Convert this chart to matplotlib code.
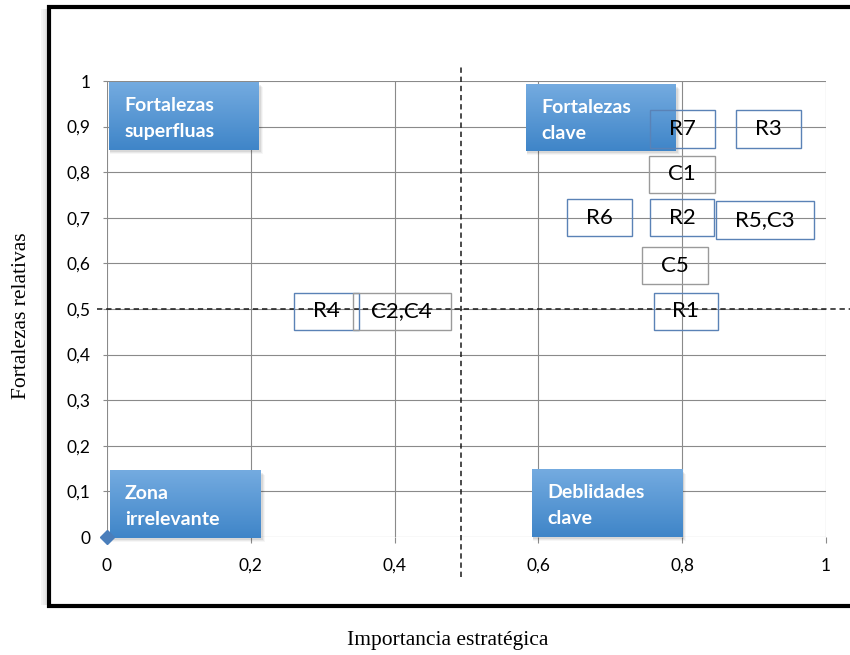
import numpy as np
import matplotlib
matplotlib.use("Agg")
import matplotlib.pyplot as plt
from matplotlib.path import Path
from matplotlib.patches import Rectangle
from matplotlib.lines import Line2D

# ---------------- data ----------------
labels = ["R7", "R3", "C1", "R6", "R2", "R5,C3", "C5", "R1", "R4", "C2,C4"]
x_vals = [0.80, 0.92, 0.80, 0.685, 0.80, 0.915, 0.79, 0.805, 0.305, 0.41]
y_vals = [0.895, 0.895, 0.795, 0.70, 0.70, 0.695, 0.595, 0.495, 0.495, 0.495]
groups = ["R", "R", "C", "R", "R", "R", "C", "R", "R", "C"]
origin_x = [0.0]
origin_y = [0.0]

x_ticks = [0, 0.2, 0.4, 0.6, 0.8, 1.0]
x_tick_labels = ["0", "0,2", "0,4", "0,6", "0,8", "1"]
y_ticks = [0, 0.1, 0.2, 0.3, 0.4, 0.5, 0.6, 0.7, 0.8, 0.9, 1.0]
y_tick_labels = ["0", "0,1", "0,2", "0,3", "0,4", "0,5", "0,6", "0,7", "0,8", "0,9", "1"]

threshold_x = 0.493
threshold_y = 0.5

quadrant_titles = [("Fortalezas", "superfluas"), ("Fortalezas", "clave"),
                   ("Zona", "irrelevante"), ("Deblidades", "clave")]

x_label = "Importancia estratégica"
y_label = "Fortalezas relativas"

# ---------------- layout / style ----------------
W, H, DPI = 850, 655, 100
fig = plt.figure(figsize=(W / DPI, H / DPI), dpi=DPI)
ax_l, ax_r, ax_t, ax_b = 107, 826, 81, 537
ax = fig.add_axes([ax_l / W, 1 - ax_b / H, (ax_r - ax_l) / W, (ax_b - ax_t) / H])
px_x = 1.0 / (ax_r - ax_l)
px_y = 1.0 / (ax_b - ax_t)

grid_col = "#8a8a8a"
ax.set_xlim(0, 1)
ax.set_ylim(0, 1)
for s in ax.spines.values():
    s.set_visible(False)
ax.set_xticks(x_ticks)
ax.set_xticklabels(x_tick_labels, fontfamily="Lato", fontsize=12.5)
ax.set_yticks(y_ticks)
ax.set_yticklabels(y_tick_labels, fontfamily="Lato", fontsize=12.5)
ax.tick_params(axis="x", direction="out", length=4, width=0.8, color=grid_col, pad=11)
ax.tick_params(axis="y", direction="out", length=3, width=0.8, color=grid_col, pad=9)
ax.set_axisbelow(True)
ax.grid(True, color=grid_col, linewidth=0.8)

# quadrant boxes (axes fraction)
quad_boxes = [(0.003, 0.849, 0.208, 0.147), (0.583, 0.846, 0.208, 0.145),
              (0.004, -0.002, 0.210, 0.147), (0.591, 0.000, 0.209, 0.147)]
top_c = np.array([0x74, 0xab, 0xe0]) / 255.0
bot_c = np.array([0x3f, 0x85, 0xc8]) / 255.0
g = np.linspace(0, 1, 128)[:, None, None]
grad_img = top_c[None, None, :] * (1 - g) + bot_c[None, None, :] * g

for (x0, y0, w, h), (l1, l2) in zip(quad_boxes, quadrant_titles):
    # soft shadow
    for k, a in [(4, 0.035), (3, 0.05), (2, 0.07)]:
        ax.add_patch(Rectangle((x0 + 1 * px_x, y0 - k * px_y),
                               w - 1 * px_x + k * px_x, h,
                               transform=ax.transAxes, facecolor="black", edgecolor="none",
                               alpha=a, zorder=1.5, clip_on=False))
    ax.imshow(grad_img, extent=(x0, x0 + w, y0, y0 + h), origin="upper",
              aspect="auto", zorder=2, interpolation="bilinear", clip_on=False)
    ax.text(x0 + 15 * px_x, y0 + h - 28 * px_y, l1, transform=ax.transAxes, color="white",
            fontfamily="Lato", fontweight="bold", fontsize=14, va="baseline", ha="left", zorder=3)
    ax.text(x0 + 15 * px_x, y0 + h - 54 * px_y, l2, transform=ax.transAxes, color="white",
            fontfamily="Lato", fontweight="bold", fontsize=14, va="baseline", ha="left", zorder=3)

ax.set_xlim(0, 1)
ax.set_ylim(0, 1)

# threshold dashed lines
ax.plot([threshold_x, threshold_x], [-0.088, 1.03], color="#1a1a1a", lw=1.1,
        dashes=(3.5, 2.5), clip_on=False, zorder=4)
ax.plot([-0.014, 1.05], [threshold_y, threshold_y], color="#1a1a1a", lw=1.1,
        dashes=(3.5, 2.5), clip_on=False, zorder=4)

# origin marker
ax.plot(origin_x, origin_y, marker="D", color="#4a7ebb", markersize=7, linestyle="none",
        clip_on=False, zorder=5)


# label boxes
def wide_box(x0, y0, width, height, mutation_size):
    padx = 0.85 * mutation_size
    pady = 0.39 * mutation_size
    x0 -= padx
    y0 -= pady
    x1 = x0 + width + 2 * padx
    y1 = y0 + height + 2 * pady
    return Path([(x0, y0), (x1, y0), (x1, y1), (x0, y1), (x0, y0)], closed=True)


edge_cols = {"R": "#5a82b6", "C": "#9a9a9a"}
for lab, xv, yv, gr in zip(labels, x_vals, y_vals, groups):
    ax.text(xv, yv, lab, ha="center", va="center", fontfamily="Lato", fontsize=16,
            color="black", zorder=6,
            bbox=dict(boxstyle=wide_box, facecolor="none", edgecolor=edge_cols[gr], linewidth=1.0))

# axis labels (serif, outside plot)
fig.text(448 / W, 1 - 640 / H, x_label, ha="center", va="center",
         fontfamily="Liberation Serif", fontsize=15.5)
fig.text(22 / W, 1 - 316 / H, y_label, ha="center", va="center", rotation=90,
         fontfamily="Liberation Serif", fontsize=15.5)

# outer frame
for dx, a in [(7, 0.04), (5, 0.07), (3, 0.10)]:
    fig.add_artist(Line2D([(49 - dx) / W, (49 - dx) / W], [1 - 10 / H, 1 - 604 / H],
                          transform=fig.transFigure, color="black", alpha=a, lw=1.5))
fig.add_artist(Line2D([49 / W, 49 / W], [1 - 5 / H, 1 - 608 / H], transform=fig.transFigure,
                      color="black", lw=3.0, solid_capstyle="butt"))
fig.add_artist(Line2D([47 / W, 1.0], [1 - 7 / H, 1 - 7 / H], transform=fig.transFigure,
                      color="black", lw=3.0, solid_capstyle="butt"))
fig.add_artist(Line2D([47 / W, 1.0], [1 - 606 / H, 1 - 606 / H], transform=fig.transFigure,
                      color="black", lw=3.0, solid_capstyle="butt"))

fig.savefig("out.png", dpi=DPI)
